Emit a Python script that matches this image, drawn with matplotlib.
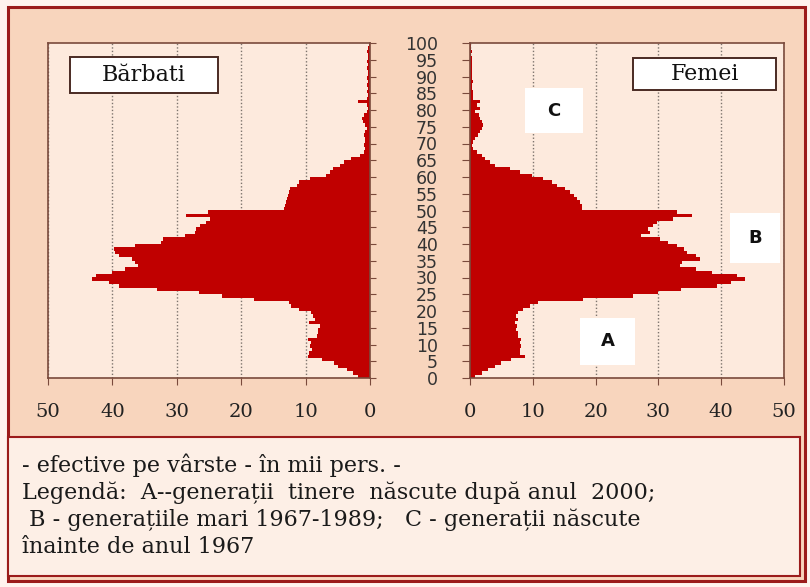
import numpy as np
import matplotlib
matplotlib.use("Agg")
import matplotlib.pyplot as plt
from matplotlib.patches import Rectangle

# population by single year of age (thousands), ages 0..99
ages = np.arange(100)
male = [
    1.8, 2.6, 3.6, 5.0, 5.6, 7.5, 9.6, 9.4, 9.0, 9.3,
    9.1, 9.6, 8.3, 8.0, 8.0, 7.8, 9.4, 8.6, 8.8, 9.2,
    11.0, 12.2, 12.6, 18.0, 23.0, 26.5, 33.0, 39.0, 40.5, 43.2,
    42.5, 40.0, 38.0, 36.0, 36.5, 37.0, 38.9, 39.6, 39.8, 36.5,
    32.5, 32.2, 28.8, 27.2, 27.0, 26.4, 25.4, 24.8, 28.5, 25.1,
    13.4, 13.2, 13.0, 12.9, 12.7, 12.6, 12.4, 11.3, 11.0, 9.3,
    6.8, 6.2, 5.7, 4.7, 4.1, 3.0, 1.6, 1.0, 0.8, 1.0,
    0.8, 0.8, 1.0, 0.8, 0.5, 0.8, 1.1, 1.3, 1.0, 0.5,
    0.3, 0.5, 1.8, 0.5, 0.3, 0.4, 0.3, 0.5, 0.3, 0.4,
    0.3, 0.3, 0.4, 0.3, 0.5, 0.3, 0.3, 0.4, 0.3, 0.2,
]
female = [
    0.8, 1.9, 2.9, 4.0, 5.0, 6.5, 8.8, 8.0, 8.0, 8.1,
    8.0, 8.1, 7.7, 7.7, 7.4, 7.5, 7.2, 7.7, 7.4, 7.7,
    8.5, 9.5, 10.8, 18.0, 26.0, 30.0, 33.6, 39.4, 41.5, 43.8,
    42.5, 38.5, 36.0, 33.5, 33.7, 36.6, 36.0, 34.5, 34.0, 32.9,
    31.6, 30.3, 27.3, 28.7, 28.4, 29.2, 29.7, 32.4, 35.3, 32.9,
    17.8, 17.9, 17.5, 17.0, 16.5, 15.9, 15.1, 13.8, 13.0, 11.7,
    9.8, 8.0, 6.4, 4.0, 3.2, 2.4, 1.9, 1.1, 0.5, 0.3,
    0.4, 0.8, 1.3, 1.6, 1.9, 2.1, 1.9, 1.6, 1.5, 0.8,
    1.6, 1.1, 1.6, 0.5, 0.4, 0.5, 0.3, 0.3, 0.4, 0.3,
    0.3, 0.3, 0.3, 0.3, 0.3, 0.3, 0.2, 0.3, 0.2, 0.2,
]
x_ticks = [0, 10, 20, 30, 40, 50]
age_ticks = list(range(0, 101, 5))

legend_lines = [
    "- efective pe vârste - în mii pers. -",
    "Legendă:  A--generații  tinere  născute după anul  2000;",
    " B - generațiile mari 1967-1989;   C - generații născute",
    "înainte de anul 1967",
]

BAR = "#c00000"
OUTER = "#f8d5bd"
INNER = "#fdeadd"
BOX = "#fdefe6"
FRAME = "#9b1b1b"
SPINE = "#7a4a3c"
SERIF = "DejaVu Serif"

W, H = 810, 587
fig = plt.figure(figsize=(W / 100, H / 100), dpi=100, facecolor="#fff3ee")

# outer frame
fig.patches.append(Rectangle((8 / W, 1 - 581 / H), 797 / W, 574 / H,
                             transform=fig.transFigure, facecolor=OUTER,
                             edgecolor=FRAME, lw=2.2, zorder=0))
# caption box
fig.patches.append(Rectangle((8 / W, 1 - 576 / H), 792 / W, 139 / H,
                             transform=fig.transFigure, facecolor=BOX,
                             edgecolor=FRAME, lw=1.5, zorder=1))

ax_l = fig.add_axes([48 / W, 1 - 378 / H, 322 / W, 335 / H])
ax_r = fig.add_axes([470 / W, 1 - 378 / H, 314 / W, 335 / H])

for ax, vals in ((ax_l, male), (ax_r, female)):
    ax.set_zorder(3)
    ax.set_facecolor(INNER)
    ax.barh(ages, vals, height=1.0, align="edge", color=BAR, lw=0, zorder=2)
    ax.set_ylim(0, 100)
    ax.set_xticks(x_ticks)
    ax.set_xticklabels([str(v) for v in x_ticks], family=SERIF, fontsize=14,
                       color="#222222")
    ax.set_yticks(age_ticks)
    ax.grid(axis="x", color="#7d746d", ls=(0, (1, 1.5)), lw=1.0, zorder=1)
    ax.set_axisbelow(True)
    for s in ax.spines.values():
        s.set_color(SPINE)
        s.set_linewidth(1.2)
    ax.tick_params(axis="x", direction="out", length=5, color=SPINE, pad=13)

ax_l.set_xlim(50, 0)
ax_r.set_xlim(0, 50)

ax_l.yaxis.tick_right()
ax_l.tick_params(axis="y", direction="out", length=4, color=SPINE,
                 labelright=False, labelleft=False)
ax_r.tick_params(axis="y", direction="out", length=6, color=SPINE, pad=17,
                 labelsize=12.5, labelcolor="#333333")

# panel titles in framed white boxes
for ax, name, x0, y0, w, h in ((ax_l, "Bărbati", 0.068, 0.851, 0.460, 0.107),
                               (ax_r, "Femei", 0.519, 0.860, 0.456, 0.095)):
    ax.add_patch(Rectangle((x0, y0), w, h, transform=ax.transAxes,
                           facecolor="white", edgecolor="#4a2a22", lw=1.4,
                           zorder=4))
    ax.text(x0 + w / 2, y0 + h / 2, name, transform=ax.transAxes,
            ha="center", va="center", family=SERIF, fontsize=16, zorder=5,
            color="#111111")

# group letters (white boxes)
for lab, x0, y0, w, h in (("C", 0.175, 0.731, 0.185, 0.135),
                          ("B", 0.828, 0.343, 0.159, 0.150),
                          ("A", 0.350, 0.039, 0.175, 0.140)):
    ax_r.add_patch(Rectangle((x0, y0), w, h, transform=ax_r.transAxes,
                             facecolor="white", edgecolor="none", zorder=4))
    ax_r.text(x0 + w / 2, y0 + h / 2, lab, transform=ax_r.transAxes,
              ha="center", va="center", fontsize=13, fontweight="bold",
              color="#111111", zorder=5)

# caption text
for i, line in enumerate(legend_lines):
    fig.text(22 / W, 1 - (465 + 27.3 * i) / H, line, family=SERIF,
             fontsize=16, va="center", ha="left", color="#1a1a1a", zorder=5)

fig.savefig("out.png", dpi=100, facecolor=fig.get_facecolor())
